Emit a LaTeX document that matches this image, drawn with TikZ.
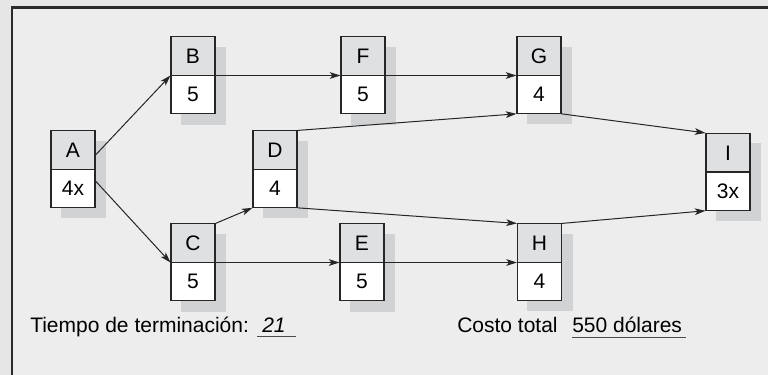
\documentclass[tikz,border=0pt]{standalone}
\usepackage{fontspec}
\setmainfont{Liberation Sans}
\usetikzlibrary{shapes.multipart,backgrounds,arrows.meta,calc}
\definecolor{outerbg}{HTML}{E6E6E6}
\definecolor{innerbg}{HTML}{EDEDED}
\definecolor{topgray}{HTML}{DFE0E2}
\definecolor{shadowgray}{HTML}{D1D2D4}
\definecolor{framecol}{HTML}{2A2A2A}
\definecolor{linecol}{HTML}{262626}
\tikzset{
  actbox/.style={rectangle split, rectangle split parts=2,
    rectangle split part fill={topgray,white},
    draw=linecol, line width=0.8pt,
    minimum width=33pt, text width=30pt, align=center,
    font=\fontsize{15.75}{18}\selectfont,
    text height=11.4pt, text depth=0pt, inner xsep=1pt, inner ysep=8.36pt,
    anchor=text split},
  shadowbox/.style={fill=shadowgray},
  conn/.style={draw=linecol, line width=0.75pt, -{Stealth[length=8pt,width=5pt,inset=2pt]}},
  lbl/.style={anchor=base west, inner sep=0pt, font=\fontsize{15.75}{18}\selectfont},
  uline/.style={draw=black!70, line width=1.1pt}
}
\begin{document}
\begin{tikzpicture}[x=0.75pt,y=-0.75pt]
\useasboundingbox (0,0) rectangle (768,375);
\begin{scope}[on background layer]
\fill[outerbg] (0,0) rectangle (768,375);
\fill[innerbg] (12,7.5) rectangle (768,375);
\end{scope}
\draw[framecol, line width=1.7pt] (12,375) -- (12,7.5) -- (768,7.5);

\node[actbox] (A) at (73,169.5) {A\nodepart{two}4x};
\node[actbox] (B) at (193,75.5) {B\nodepart{two}5};
\node[actbox] (F) at (363,75.5) {F\nodepart{two}5};
\node[actbox] (G) at (539,75.5) {G\nodepart{two}4};
\node[actbox] (D) at (275,169.5) {D\nodepart{two}4};
\node[actbox] (C) at (193,262.5) {C\nodepart{two}5};
\node[actbox] (E) at (362,262.5) {E\nodepart{two}5};
\node[actbox] (H) at (539.5,262.5) {H\nodepart{two}4};
\node[actbox] (I) at (728,172) {I\nodepart{two}3x};

\begin{scope}[on background layer]
\foreach \n in {A,B,C,D,E,F,G,H,I}
  \fill[shadowbox] ($(\n.north west)+(10.5,10.5)$) rectangle ($(\n.south east)+(10.5,10.5)$);
\end{scope}

\draw[conn] ($(A.text split east)+(0,-14.5)$) -- (B.text split west);
\draw[conn] ($(A.text split east)+(0,11.5)$) -- (C.text split west);
\draw[conn] (B.text split east) -- (F.text split west);
\draw[conn] (F.text split east) -- (G.text split west);
\draw[conn] (C.north east) -- (D.south west);
\draw[conn] (C.text split east) -- (E.text split west);
\draw[conn] (E.text split east) -- (H.text split west);
\draw[conn] (D.north east) -- (G.south west);
\draw[conn] (D.south east) -- (H.north west);
\draw[conn] (G.south east) -- (I.north west);
\draw[conn] (H.north east) -- (I.south west);

\node[lbl] (t1) at (30,332) {Tiempo de terminación:};
\node[lbl] (t2) at (262,332) {\itshape 21};
\node[lbl] (t3) at (457,332) {Costo total};
\node[lbl] (t4) at (572,332) {550 dólares};
\coordinate (u1a) at (257,336.5);
\coordinate (u1b) at (296,336.5);
\coordinate (u2a) at (572,337.5);
\coordinate (u2b) at (686,337.5);
\draw[uline] (u1a) -- (u1b);
\draw[uline] (u2a) -- (u2b);
\end{tikzpicture}
\end{document}
